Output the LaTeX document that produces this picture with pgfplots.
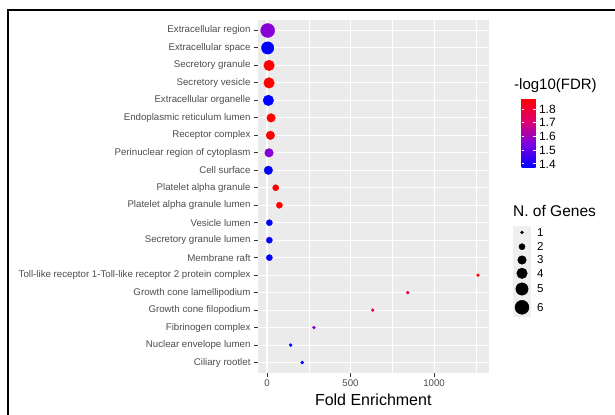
\documentclass[border=0pt]{standalone}
\usepackage{pgfplots}
\usepackage{pgfplotstable}
\pgfplotsset{compat=1.18}
\usepackage{fontspec}
\setmainfont{Liberation Sans}
\definecolor{ggbg}{HTML}{EBEBEB}
\definecolor{ggtick}{HTML}{333333}
\definecolor{ggtext}{HTML}{4D4D4D}
\definecolor{ggkey}{HTML}{EFEFEF}
\pgfplotstableread{
y x n c
19 4 6 1.56
18 4 5 1.37
17 12 4 1.88
16 12 4 1.88
15 8 4 1.37
14 24 3 1.88
13 20 3 1.88
12 12 3 1.56
11 8 3 1.37
10 52 2 1.88
9 74 2 1.88
8 14 2 1.37
7 14 2 1.37
6 14 2 1.37
5 1263 1 1.88
4 842 1 1.78
3 633 1 1.72
2 281 1 1.56
1 142 1 1.37
0 211 1 1.37
}\godata
\pgfplotstableread{
y n
182.7 1
168.3 2
155.0 3
141.7 4
126.0 5
107.7 6
}\sizekeys
\begin{document}
\begin{tikzpicture}
\useasboundingbox (0bp,0bp) rectangle (615bp,415bp);
\draw[line width=2.4bp] (8bp,0bp) -- (8bp,405bp) -- (615bp,405bp);
\begin{axis}[
  at={(257.5bp,42bp)}, anchor=south west,
  scale only axis, width=231.5bp, height=353bp,
  xmin=-57, xmax=1329, ymin=-0.6, ymax=19.6,
  axis background/.style={fill=ggbg},
  axis line style={draw=none},
  xtick={0,500,1000}, minor xtick={250,750,1250},
  ytick={0,...,19},
  yticklabels={Ciliary rootlet, Nuclear envelope lumen, Fibrinogen complex, Growth cone filopodium, Growth cone lamellipodium, Toll-like receptor 1-Toll-like receptor 2 protein complex, Membrane raft, Secretory granule lumen, Vesicle lumen, Platelet alpha granule lumen, Platelet alpha granule, Cell surface, Perinuclear region of cytoplasm, Receptor complex, Endoplasmic reticulum lumen, Extracellular organelle, Secretory vesicle, Secretory granule, Extracellular space, Extracellular region},
  xmajorgrids, ymajorgrids, xminorgrids,
  major grid style={white, line width=1.07bp},
  minor grid style={white, line width=0.53bp},
  tick align=outside, tick pos=left,
  major tick length=3.5bp, minor tick length=0pt,
  tick style={ggtick, line width=1bp},
  tick label style={font=\fontsize{9.7bp}{11bp}\selectfont, text=ggtext},
  /pgf/number format/assume math mode=true,
  /pgf/number format/1000 sep={},
  xlabel={Fold Enrichment},
  xlabel style={font=\fontsize{16bp}{18bp}\selectfont, at={(axis description cs:0.5,0)}, anchor=base, yshift=-32.7bp},
  point meta min=1.37, point meta max=1.88,
  colormap={ggbr}{rgb255(0cm)=(0,0,255); rgb255(35cm)=(128,0,224); rgb255(68cm)=(224,0,106); rgb255(100cm)=(255,0,0)},
  colorbar,
  colorbar style={
    at={(parent axis.north east)}, anchor=north west, xshift=24bp, yshift=-78bp,
    scale only axis, width=14bp, height=70bp,
    ytick={1.4,1.5,1.6,1.7,1.8},
    yticklabel style={font=\fontsize{12bp}{13bp}\selectfont, text=black, /pgf/number format/fixed, /pgf/number format/precision=1, /pgf/number format/fixed zerofill},
    /pgf/number format/assume math mode=true,
    axis line style={draw=none},
    tick style={white, line width=0.8bp},
    major tick length=2.8bp,
    tick align=inside,
    yticklabel pos=right,
  },
]
\addplot[scatter, only marks, mark=*, point meta=explicit,
  scatter/use mapped color={draw=mapped color, fill=mapped color},
  visualization depends on={1.5+3.795*(sqrt(\thisrow{n})-1) \as \rr},
  scatter/@pre marker code/.append style={/tikz/mark size=\rr bp}]
  table[x=x, y=y, meta=c] {\godata};
\end{axis}
\node[anchor=west, font=\fontsize{15bp}{17bp}\selectfont, inner sep=0pt] at (514bp,329bp) {-log10(FDR)};
\node[anchor=west, font=\fontsize{15.5bp}{17bp}\selectfont, inner sep=0pt] at (513bp,204.3bp) {N. of Genes};
\fill[ggkey] (513bp,98bp) rectangle (531bp,189bp);
\begin{axis}[
  at={(513bp,98bp)}, anchor=south west,
  scale only axis, width=18bp, height=91bp,
  xmin=-1, xmax=1, ymin=98, ymax=189, hide axis]
\addplot[scatter, only marks, mark=*, point meta=\thisrow{n},
  scatter/use mapped color={draw=black, fill=black},
  visualization depends on={1.5+3.795*(sqrt(\thisrow{n})-1) \as \rr},
  scatter/@pre marker code/.append style={/tikz/mark size=\rr bp}]
  table[x expr=0, y=y] {\sizekeys};
\end{axis}
\foreach \yy/\lab in {182.7/1,168.3/2,155.0/3,141.7/4,126.0/5,107.7/6}
  \node[anchor=west, font=\fontsize{11.5bp}{13bp}\selectfont, inner sep=0pt] at (537bp,\yy bp) {\lab};
\end{tikzpicture}
\end{document}
